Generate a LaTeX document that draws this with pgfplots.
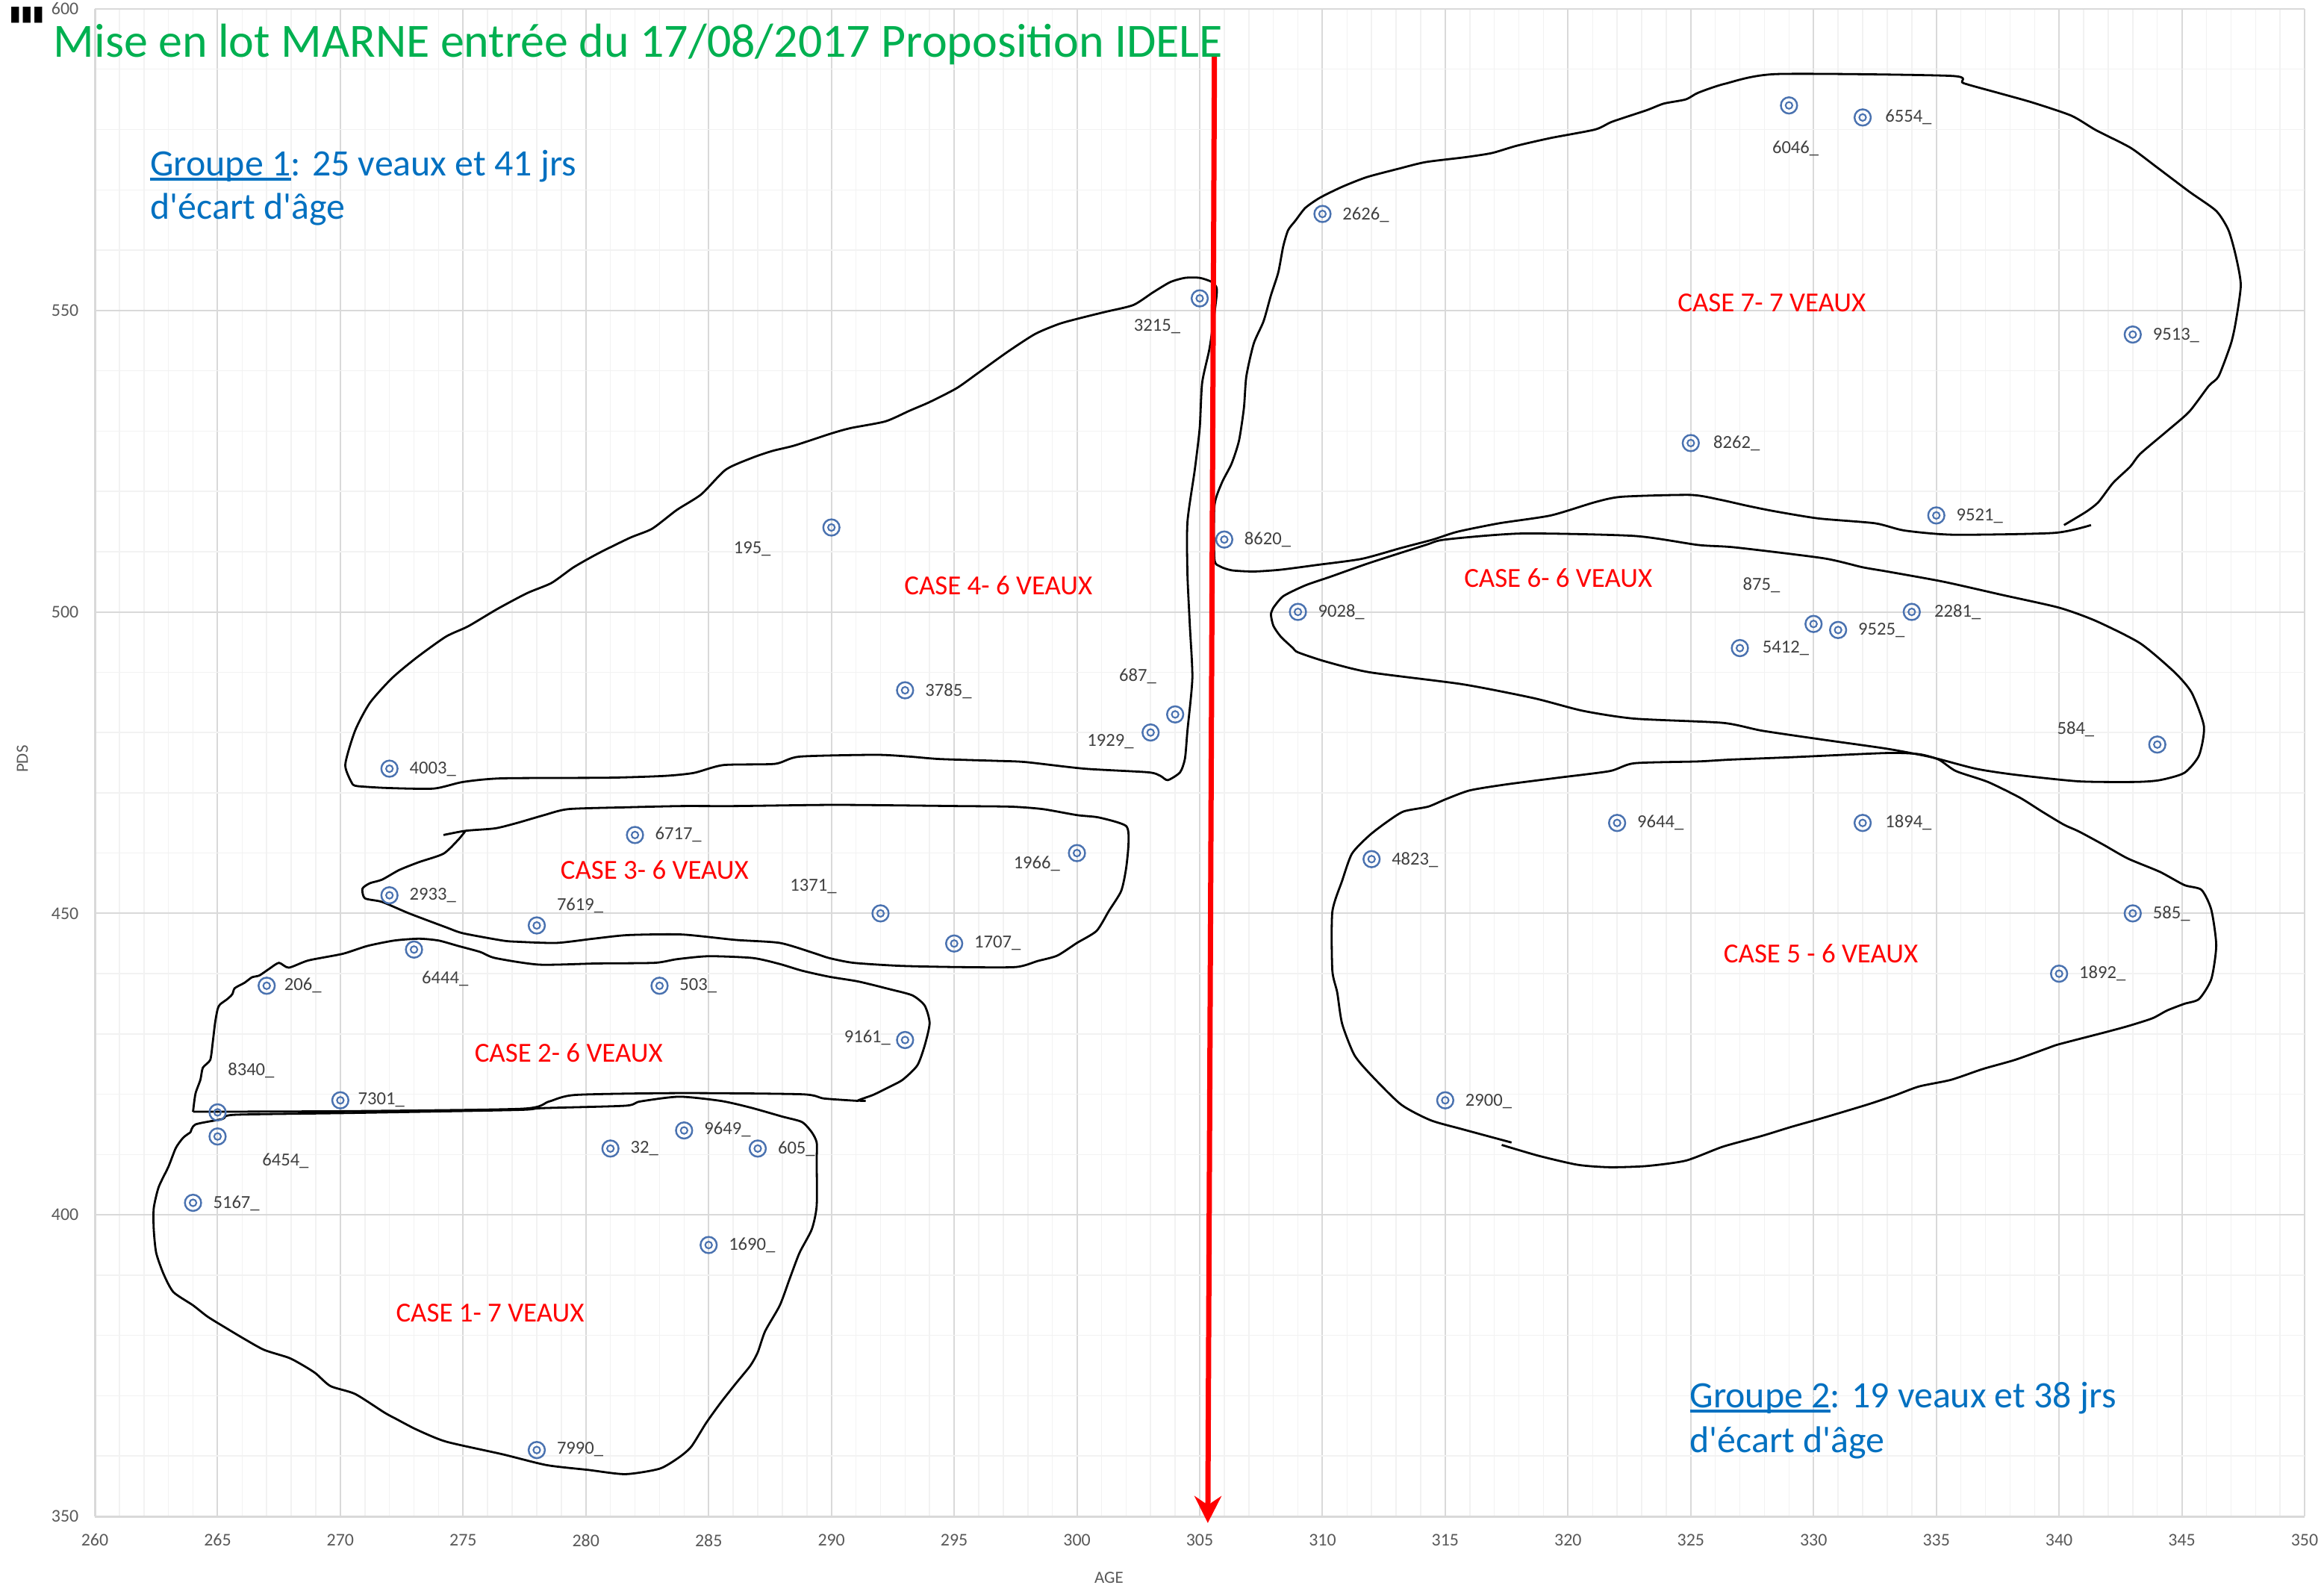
\documentclass[border=0pt]{standalone}
\usepackage{fontspec}
\setmainfont{Carlito}
\newfontfamily\symfont{DejaVu Sans}
\usepackage{pgfplots}
\usepackage{pgfplotstable}
\pgfplotsset{compat=1.18}
\usetikzlibrary{arrows.meta}

\definecolor{gridmaj}{HTML}{D9D9D9}
\definecolor{gridmin}{HTML}{F2F2F2}
\definecolor{ticktxt}{HTML}{595959}
\definecolor{labtxt}{HTML}{404040}
\definecolor{markblue}{HTML}{4A72B0}
\definecolor{titlegreen}{HTML}{00B050}
\definecolor{groupblue}{HTML}{0070C0}

\newcommand{\ul}[1]{\leavevmode\rlap{\rule[-0.13em]{\widthof{#1}}{0.09em}}#1}
\usepackage{calc}

% veaux : AGE (jours), PDS (kg), par case
\pgfplotstableread{
x   y
264 402
265 413
281 411
284 414
287 411
285 395
278 361
265 417
270 419
267 438
273 444
283 438
293 429
272 453
278 448
282 463
292 450
295 445
300 460
272 474
290 514
293 487
303 480
304 483
305 552
312 459
315 419
322 465
332 465
343 450
340 440
309 500
327 494
330 498
331 497
334 500
344 478
306 512
310 566
329 584
332 582
343 546
325 528
335 516
}\veaux

% etiquettes (bord gauche du texte)
\pgfplotstableread{
x     y     lab
302.3 547.4 3215\_
286.0 510.4 195\_
293.8 486.9 3785\_
272.8 473.9 4003\_
301.7 489.3 687\_
300.4 478.5 1929\_
306.8 512.0 8620\_
310.8 565.8 2626\_
328.3 576.9 6046\_
332.9 582.1 6554\_
343.8 545.9 9513\_
325.9 528.0 8262\_
335.8 515.9 9521\_
309.8 500.0 9028\_
327.1 504.4 875\_
331.8 497.0 9525\_
327.9 494.0 5412\_
334.9 500.0 2281\_
339.9 480.5 584\_
322.8 465.0 9644\_
332.9 465.0 1894\_
312.8 458.9 4823\_
343.8 450.0 585\_
340.8 440.0 1892\_
315.8 418.8 2900\_
282.8 463.1 6717\_
272.8 453.0 2933\_
278.8 451.3 7619\_
288.3 454.5 1371\_
297.4 458.2 1966\_
295.8 445.1 1707\_
273.3 439.2 6444\_
267.7 438.0 206\_
283.8 438.0 503\_
290.5 429.4 9161\_
265.4 424.0 8340\_
270.7 419.1 7301\_
266.8 409.0 6454\_
264.8 401.9 5167\_
281.8 411.0 32\_
284.8 414.2 9649\_
287.8 411.0 605\_
285.8 395.0 1690\_
278.8 361.1 7990\_
}\etiquettes

\begin{document}
\begin{tikzpicture}
\begin{axis}[
    name=ax,
    scale only axis,
    width=296mm, height=201.9mm,
    xmin=260, xmax=350, ymin=350, ymax=600,
    xtick distance=5, ytick distance=50,
    minor x tick num=4, minor y tick num=4,
    grid=both,
    major grid style={draw=gridmaj, line width=0.2mm},
    minor grid style={draw=gridmin, line width=0.15mm},
    major tick length=0pt, minor tick length=0pt,
    axis x line*=bottom, axis y line*=left,
    axis line style={draw=gridmaj, line width=0.3mm, -},
    tick label style={font=\fontsize{6.8}{8}\selectfont, text=ticktxt, inner sep=0pt},
    xticklabel style={anchor=center, yshift=-3.2mm},
    yticklabel style={anchor=east, xshift=-2.1mm},
    /pgf/number format/assume math mode=true,
    clip=false,
]

% contours des cases
\addplot[black, line width=0.28mm, smooth, tension=0.4] coordinates {
(263.9,413.7) (264.1,415.0) (265.2,415.9) (265.7,416.6) (270.4,416.9) (277.2,417.4) (278.2,417.7) (281.6,418.1) (282.2,418.8) (283.8,419.6) (285.5,418.9) (286.7,417.8) (288.0,416.3) (288.8,415.4) (289.2,413.7) (289.4,412.0) (289.4,408.9) (289.4,401.5) (289.2,397.6) (288.7,393.7) (288.3,389.4) (287.9,385.0) (287.3,380.7) (287.0,377.2) (286.7,375.0) (286.1,372.0) (285.5,368.9) (284.9,365.5) (284.3,361.6) (283.8,359.8) (283.0,357.9) (281.6,357.0) (280.1,357.7) (278.4,358.5) (276.6,360.3) (274.3,362.4) (273.1,364.4) (272.3,366.1) (271.8,367.2) (270.6,370.3) (269.6,371.6) (269.0,373.7) (268.5,375.0) (267.9,376.3) (266.9,377.6) (266.1,379.4) (265.4,381.1) (264.6,383.1) (264.0,385.0) (263.2,387.2) (262.8,390.2) (262.5,393.7) (262.4,397.6) (262.4,401.1) (262.6,404.6) (263.0,408.0) (263.3,411.1) (263.6,412.8) (263.9,413.7)
};
\addplot[black, line width=0.28mm, smooth, tension=0.4] coordinates {
(264.0,417.1) (264.1,420.1) (264.3,422.4) (264.4,424.4) (264.7,425.7) (264.8,428.5) (264.9,431.9) (265.0,434.1) (265.1,434.9) (265.4,435.8) (265.6,436.6) (265.7,437.6) (266.1,438.5) (266.4,439.4) (266.7,439.7) (267.1,440.8) (267.5,441.8) (267.9,441.0) (268.7,442.2) (270.1,443.3) (271.1,444.6) (272.2,445.5) (273.2,445.8) (274.0,445.5) (274.8,444.6) (275.7,443.6) (276.3,442.6) (278.1,441.5) (280.5,441.7) (282.8,441.8) (283.7,442.4) (285.0,442.9) (286.8,442.6) (287.9,441.6) (288.8,440.5) (289.9,439.5) (291.1,438.7) (292.4,437.4) (293.3,436.4) (293.8,434.7) (294.0,431.8) (293.8,428.1) (293.5,424.8) (292.9,422.4) (292.3,421.1) (291.7,419.9) (291.1,419.0) (291.4,418.9)
};
\addplot[black, line width=0.28mm, smooth, tension=0.4] coordinates {
(291.1,418.9) (289.7,419.3) (288.8,420.0) (283.9,420.2) (279.6,419.9) (278.5,418.8) (277.4,417.6) (270.4,417.2) (264.0,417.1)
};
\addplot[black, line width=0.28mm, smooth, tension=0.4] coordinates {
(274.2,463.0) (275.1,463.7) (276.3,464.1) (277.2,465.0) (278.3,466.3) (279.3,467.3) (281.7,467.6) (283.9,467.8) (286.1,467.8) (290.2,468.0) (295.1,467.8) (297.3,467.7) (298.6,467.3) (300.0,466.3) (300.9,465.9) (302.0,464.5) (302.1,461.6) (302.0,457.4) (301.8,453.7) (301.3,450.4) (300.8,447.1) (300.0,445.1) (299.2,443.0) (298.4,442.1) (297.5,441.1) (295.1,441.1) (292.8,441.3) (290.9,441.8) (289.9,442.6) (289.3,443.4) (287.9,445.1) (286.1,445.6) (283.9,446.5) (281.7,446.4) (280.3,445.8) (278.8,445.1) (277.2,445.3) (276.6,445.5) (275.0,446.7) (274.3,447.7) (272.8,450.0) (271.7,451.9) (271.0,452.5) (270.9,454.1) (271.2,455.0) (271.7,455.6) (272.4,457.2) (273.2,458.5) (274.2,459.9) (274.8,462.2) (275.1,463.7)
};
\addplot[black, line width=0.28mm, smooth, tension=0.4] coordinates {
(270.5,471.4) (270.2,474.6) (270.6,480.3) (271.2,484.9) (272.1,489.0) (273.1,492.4) (274.3,495.9) (275.2,497.6) (276.4,500.5) (277.6,503.1) (278.6,504.8) (279.5,507.4) (280.5,509.7) (281.8,512.3) (282.7,513.8) (283.7,516.9) (284.7,519.5) (285.7,523.6) (286.8,525.6) (287.6,526.7) (288.5,527.6) (290.0,529.6) (290.8,530.5) (292.2,531.6) (293.2,533.4) (294.0,534.8) (295.1,537.1) (296.0,539.7) (297.2,543.2) (298.3,546.1) (299.3,547.8) (300.3,548.9) (301.2,549.8) (302.3,550.9) (303.1,553.0) (303.8,554.7) (304.4,555.4) (305.0,555.4) (305.5,554.7) (305.7,553.5) (305.6,549.5) (305.4,543.7) (305.1,538.0) (305.0,530.5) (304.8,523.6) (304.5,514.9) (304.5,506.3) (304.6,497.6) (304.7,489.0) (304.5,480.3) (304.4,475.7) (304.2,473.4) (303.7,472.1) (303.4,472.8) (302.9,473.4) (300.3,474.0) (297.9,475.1) (296.7,475.3) (294.4,475.6) (293.2,476.0) (291.8,476.3) (288.7,476.0) (287.7,474.8) (285.6,474.6) (284.4,473.3) (283.2,472.8) (280.9,472.5) (276.6,472.4) (275.0,471.8) (273.8,470.7) (271.9,470.8) (270.7,471.1) (270.5,471.4)
};
\addplot[black, line width=0.28mm, smooth, tension=0.4] coordinates {
(317.7,412.0) (315.7,414.2) (314.4,415.7) (313.2,418.3) (312.0,423.1) (311.3,426.5) (310.8,431.7) (310.6,436.9) (310.4,440.6) (310.4,450.2) (310.8,455.4) (311.2,459.9) (311.9,462.9) (312.6,465.1) (313.3,466.9) (314.3,467.7) (315.0,468.9) (316.0,470.4) (317.5,471.4) (319.6,472.5) (321.7,473.6) (322.7,474.9) (325.3,475.2) (326.6,475.5) (329.1,475.9) (333.0,476.6) (334.3,476.4) (335.1,475.5) (335.8,473.6) (337.1,471.8) (338.4,469.2) (339.3,466.9) (340.2,464.7) (340.8,463.6) (341.8,461.4) (342.8,459.1) (344.1,456.9) (345.1,454.7) (345.8,453.9) (346.2,450.6) (346.4,444.7) (346.2,439.1) (345.7,435.8) (345.1,435.0) (344.4,433.9) (343.8,432.6) (342.8,431.3) (341.8,430.2) (340.0,428.3) (339.5,427.6) (338.2,425.7) (336.9,424.2) (335.6,422.4) (334.3,421.3) (333.3,419.8) (332.2,418.3) (330.4,416.1) (329.1,414.6) (327.9,413.1) (326.3,411.3) (324.8,409.0) (323.2,408.1) (321.7,407.9) (320.4,408.3) (318.8,409.8) (317.3,411.6)
};
\addplot[black, line width=0.28mm, smooth, tension=0.4] coordinates {
(308.0,500.7) (308.4,502.6) (309.3,504.4) (310.3,505.8) (311.9,508.1) (314.2,511.1) (315.0,512.0) (318.1,513.0) (322.7,512.6) (325.3,511.1) (326.8,510.7) (330.4,508.9) (332.0,507.4) (333.0,506.7) (335.3,505.0) (337.7,502.8) (340.0,500.7) (341.5,498.5) (343.3,494.8) (344.7,490.0) (345.4,486.6) (345.9,481.0) (345.7,476.2) (345.1,473.3) (344.1,472.1) (343.1,471.8) (340.8,471.9) (338.2,473.0) (336.6,474.0) (334.8,475.9) (333.0,477.3) (330.4,478.8) (327.9,480.3) (326.3,481.6) (322.7,482.3) (320.6,483.6) (318.6,485.7) (315.7,488.0) (311.9,490.0) (310.1,491.8) (309.0,493.3) (308.8,494.0) (308.3,495.9) (308.0,497.7) (307.9,499.6) (308.0,500.7)
};
\addplot[black, line width=0.28mm, smooth, tension=0.4] coordinates {
(341.3,514.4) (339.8,513.1) (335.7,512.8) (333.7,513.5) (332.5,514.7) (330.2,515.5) (328.4,516.7) (327.3,517.6) (326.2,518.6) (325.0,519.4) (322.2,519.1) (321.1,518.2) (319.3,516.0) (317.2,514.7) (315.5,513.3) (314.5,512.0) (313.2,510.6) (311.6,508.8) (309.8,507.8) (308.3,507.0) (307.2,506.7) (306.3,506.9) (305.8,507.6) (305.6,508.8) (305.6,517.6) (305.9,521.4) (306.3,524.6) (306.6,528.4) (306.8,533.8) (306.9,539.1) (307.2,544.5) (307.6,548.2) (307.9,552.5) (308.2,556.3) (308.4,560.6) (308.6,563.3) (308.9,564.9) (309.3,567.0) (309.9,568.7) (310.8,570.5) (311.8,572.1) (313.1,573.5) (314.2,574.6) (315.8,575.4) (316.9,576.1) (317.9,577.3) (319.3,578.6) (321.1,580.0) (321.8,581.3) (323.2,583.2) (323.9,584.3) (324.8,585.0) (325.3,586.1) (326.4,587.6) (328.5,589.2) (335.6,588.9) (336.1,587.7) (337.5,586.1) (338.9,584.5) (340.5,582.3) (341.5,579.9) (342.9,577.0) (343.9,574.0) (345.3,569.7) (346.4,566.5) (346.9,563.3) (347.2,559.0) (347.4,554.2) (347.2,548.2) (347.0,544.5) (346.5,539.1) (346.1,537.5) (345.3,533.2) (344.4,530.0) (343.3,526.2) (342.9,524.1) (342.2,521.4) (341.6,518.2) (341.1,516.6) (340.2,514.4)
};

% veaux
\addplot[only marks, mark=o, mark size=3.1pt, mark options={draw=markblue, line width=0.7pt}] table[x=x, y=y] {\veaux};
\addplot[only marks, mark=o, mark size=1.3pt, mark options={draw=markblue, line width=0.6pt}] table[x=x, y=y] {\veaux};

% numeros
\addplot[draw=none, mark=none, nodes near coords, point meta=explicit symbolic,
    nodes near coords align={anchor=west},
    nodes near coords style={anchor=west, inner sep=0pt, font=\fontsize{7}{8}\selectfont, text=labtxt}]
    table[x=x, y=y, meta=lab] {\etiquettes};

% separation des groupes
\addplot[red, line width=0.7mm, -{Stealth[length=3.6mm, width=3.6mm, inset=1.2mm]}] coordinates {(305.6,592.3) (305.33,348.9)};

\node[anchor=base west, inner sep=0pt, font=\fontsize{18.2}{22}\selectfont, text=titlegreen] at (axis cs:258.3,592.0) {Mise en lot MARNE entrée du 17/08/2017 Proposition IDELE};
\node[anchor=west, inner sep=0pt, font=\symfont\fontsize{8}{8}\selectfont] at (axis cs:256.5,599.0) {▮▮▮};

\node[anchor=base west, inner sep=0pt, font=\fontsize{14.2}{17}\selectfont, text=groupblue] at (axis cs:262.24,572.3) {\ul{Groupe 1}: 25 veaux et 41 jrs};
\node[anchor=base west, inner sep=0pt, font=\fontsize{14.2}{17}\selectfont, text=groupblue] at (axis cs:262.24,565.1) {d\textquotesingle écart d\textquotesingle âge};
\node[anchor=base west, inner sep=0pt, font=\fontsize{14.2}{17}\selectfont, text=groupblue] at (axis cs:324.94,368.0) {\ul{Groupe 2}: 19 veaux et 38 jrs};
\node[anchor=base west, inner sep=0pt, font=\fontsize{14.2}{17}\selectfont, text=groupblue] at (axis cs:324.94,360.6) {d\textquotesingle écart d\textquotesingle âge};

\tikzset{case/.style={inner sep=0pt, font=\fontsize{10.5}{12}\selectfont, text=red}}
\node[case] at (axis cs:276.1,383.7) {CASE 1- 7 VEAUX};
\node[case] at (axis cs:279.3,426.9) {CASE 2- 6 VEAUX};
\node[case] at (axis cs:282.8,457.2) {CASE 3- 6 VEAUX};
\node[case] at (axis cs:296.8,504.4) {CASE 4- 6 VEAUX};
\node[case] at (axis cs:330.3,443.4) {CASE 5 - 6 VEAUX};
\node[case] at (axis cs:319.6,505.6) {CASE 6- 6 VEAUX};
\node[case] at (axis cs:328.3,551.3) {CASE 7- 7 VEAUX};

\node[font=\fontsize{6.5}{8}\selectfont, text=ticktxt, inner sep=0pt] at (axis cs:301.3,339.85) {AGE};
\node[rotate=90, font=\fontsize{6.5}{8}\selectfont, text=ticktxt, inner sep=0pt] at (axis cs:257.05,475.6) {PDS};
\end{axis}
\pgfresetboundingbox
\path[use as bounding box] ([shift={(-12.7mm,-10.3mm)}]ax.south west) rectangle ([shift={(2.6mm,1.2mm)}]ax.north east);
\end{tikzpicture}
\end{document}
